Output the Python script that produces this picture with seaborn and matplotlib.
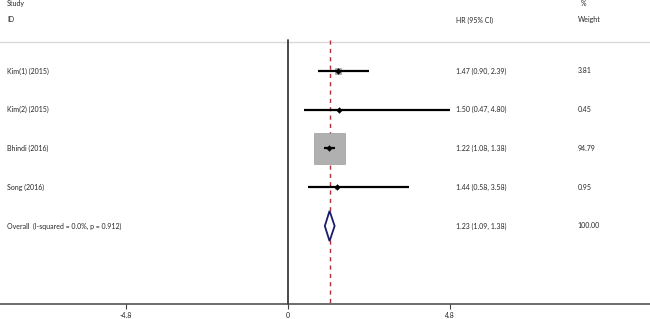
import matplotlib
matplotlib.use("Agg")
import matplotlib.pyplot as plt
import matplotlib.transforms as mtransforms
import seaborn as sns
import pandas as pd

# study-level data
studies = ["Kim(1) (2015)", "Kim(2) (2015)", "Bhindi (2016)", "Song (2016)"]
hr = [1.47, 1.50, 1.22, 1.44]
lower = [0.90, 0.47, 1.08, 0.58]
upper = [2.39, 4.80, 1.38, 3.58]
weight = [3.81, 0.45, 94.79, 0.95]

overall_label = "Overall  (I-squared = 0.0%, p = 0.912)"
overall_hr = 1.23
overall_lower = 1.09
overall_upper = 1.38

tick_values = [-4.8, 0, 4.8]
tick_labels = ["-4.8", "0", "4.8"]

sns.set_style("white")
plt.rcParams["font.family"] = ["Lato", "DejaVu Sans"]

df = pd.DataFrame({"study": studies, "hr": hr, "lower": lower,
                   "upper": upper, "weight": weight})
df["row"] = range(len(df))
overall_row = len(df)

fig = plt.figure(figsize=(6.5, 3.19), dpi=100)
ax = fig.add_axes([0, 0, 1, 1])
ax.set_xlim(-8.52, 10.71)
ax.set_ylim(6.4, -1.832)

# weight boxes
sns.scatterplot(data=df, x="hr", y="row", size="weight", sizes=(0.45 * 5.4, 94.79 * 5.4),
                size_norm=(0.45, 94.79), marker="s", color="#b0b0b0",
                edgecolor="#8f8f8f", linewidth=0.4, legend=False, ax=ax, zorder=2)
# confidence intervals
ax.hlines(df["row"], df["lower"], df["upper"], color="black", linewidth=1.6, zorder=3)
# point estimates
sns.scatterplot(data=df, x="hr", y="row", marker="D", s=9, color="black",
                edgecolor="black", legend=False, ax=ax, zorder=4)

# overall diamond
dh = 0.39
ax.fill([overall_lower, overall_hr, overall_upper, overall_hr],
        [overall_row, overall_row - dh, overall_row, overall_row + dh],
        facecolor="white", edgecolor="#1a1a6e", linewidth=1.3, zorder=3)

# reference lines
top = -0.8
axis_y = 6.01
ax.plot([0, 0], [top, axis_y], color="#3a3a3a", linewidth=1.3, zorder=1)
ax.plot([overall_hr, overall_hr], [top, axis_y], color="#b0303c", linewidth=1.0,
        linestyle=(0, (3, 3)), zorder=1.5)
ax.axhline(-0.75, color="#d9d9d9", linewidth=1.0, zorder=0.5)

# x axis
for s in ["top", "left", "right"]:
    ax.spines[s].set_visible(False)
ax.spines["bottom"].set_position(("data", axis_y))
ax.spines["bottom"].set_color("#444444")
ax.spines["bottom"].set_linewidth(1.1)
ax.set_xticks(tick_values)
ax.set_xticklabels(tick_labels)
ax.tick_params(axis="x", direction="out", length=3.6, width=0.8, color="#444444",
               labelsize=5, pad=2, labelcolor="#222222", bottom=True)
ax.set_yticks([])
ax.set_xlabel("")
ax.set_ylabel("")

# text columns
fs = 5
trans = mtransforms.blended_transform_factory(ax.transAxes, ax.transData)
ax.text(0.011, -1.73, "Study", fontsize=fs, va="center", transform=trans)
ax.text(0.011, -1.316, "ID", fontsize=fs, va="center", transform=trans)
ax.text(0.702, -1.316, "HR (95% CI)", fontsize=fs, va="center", transform=trans)
ax.text(0.893, -1.73, "%", fontsize=fs, va="center", transform=trans)
ax.text(0.889, -1.316, "Weight", fontsize=fs, va="center", transform=trans)

for _, r in df.iterrows():
    ax.text(0.011, r["row"], r["study"], fontsize=fs, va="center", transform=trans)
    ax.text(0.702, r["row"], f"{r['hr']:.2f} ({r['lower']:.2f}, {r['upper']:.2f})",
            fontsize=fs, va="center", transform=trans)
    ax.text(0.889, r["row"], f"{r['weight']:.2f}", fontsize=fs, va="center", transform=trans)

ax.text(0.011, overall_row, overall_label, fontsize=fs, va="center", transform=trans)
ax.text(0.702, overall_row, f"{overall_hr:.2f} ({overall_lower:.2f}, {overall_upper:.2f})",
        fontsize=fs, va="center", transform=trans)
ax.text(0.889, overall_row, "100.00", fontsize=fs, va="center", transform=trans)

fig.savefig("out.png", dpi=100)
